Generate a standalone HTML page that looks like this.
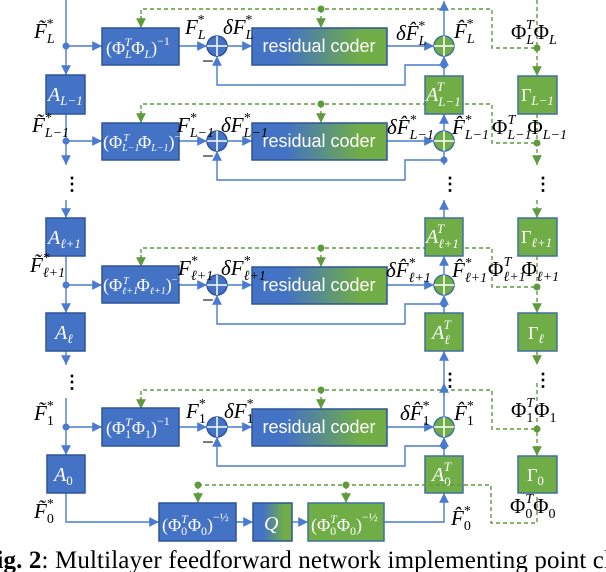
<!DOCTYPE html>
<html><head><meta charset="utf-8"><style>
html,body{margin:0;padding:0;background:#fff;width:606px;height:572px;overflow:hidden}
svg{display:block}
.m{font-family:"Liberation Serif",serif;font-style:italic;font-size:21px;fill:#000}
.u{font-family:"Liberation Serif",serif;font-size:21px;fill:#000}
.w{font-family:"Liberation Serif",serif;font-size:18px;fill:#fff}
.wi{font-family:"Liberation Serif",serif;font-style:italic;font-size:20px;fill:#fff}
.rc{font-family:"Liberation Sans",sans-serif;font-size:18px;fill:#fff}
.b{stroke:#4a7bd0;stroke-width:1.4;fill:none}
.g{stroke:#5f9a3c;stroke-width:1.4;fill:none;stroke-dasharray:4,3}
.bb{fill:#4472C4;stroke:#2F5597;stroke-width:1.5}
.gb{fill:#70AD47;stroke:#41719C;stroke-width:1.5}
.dots{font-family:"Liberation Serif",serif;font-size:18px;fill:#000;font-weight:bold}
</style></head><body>
<svg width="606" height="572" viewBox="0 0 606 572" xmlns="http://www.w3.org/2000/svg">
<defs>
<marker id="ab" viewBox="0 0 10 10" refX="10" refY="5" markerWidth="7" markerHeight="7" orient="auto"><path d="M0,0L10,5L0,10z" fill="#4a7bd0"/></marker>
<marker id="ag" viewBox="0 0 10 10" refX="10" refY="5" markerWidth="7" markerHeight="7" orient="auto"><path d="M0,0L10,5L0,10z" fill="#5f9a3c"/></marker>
<linearGradient id="grad" x1="0" x2="1" y1="0" y2="0"><stop offset="0.25" stop-color="#4472C4"/><stop offset="0.8" stop-color="#70AD47"/></linearGradient>
<g id="stage">
<path class="g" d="M141,-18V-37H492V2H537"/>
<path class="g" d="M141,-30V-18" marker-end="url(#ag)"/>
<path class="g" d="M321,-37V-18" marker-end="url(#ag)"/>
<circle cx="321" cy="-37" r="3.5" fill="#5f9a3c"/>
<circle cx="537" cy="2" r="3.5" fill="#5f9a3c"/>
<circle cx="66" cy="0" r="3.5" fill="#4a7bd0"/>
<path class="b" d="M66,0H102" marker-end="url(#ab)"/>
<path class="b" d="M179,0H207" marker-end="url(#ab)"/>
<path class="b" d="M227,0H252" marker-end="url(#ab)"/>
<path class="b" d="M387,0H434" marker-end="url(#ab)"/>
<path class="b" d="M444,19H405V39H217V10" marker-end="url(#ab)"/>
<circle cx="444" cy="19" r="3.5" fill="#4a7bd0"/>
<rect x="252" y="-18" width="135" height="37" fill="url(#grad)" stroke="#2F5597" stroke-width="1.5"/>
<text x="319" y="6" class="rc" text-anchor="middle">residual coder</text>
<circle cx="217" cy="0" r="10" class="bb"/>
<path d="M207,0H227M217,-10V10" stroke="#fff" stroke-width="1.5"/>
<circle cx="444" cy="0" r="10" class="gb"/>
<path d="M434,0H454M444,-10V10" stroke="#fff" stroke-width="1.5"/>
<text x="202" y="22" class="u">−</text>
</g>
</defs>

<use href="#stage" transform="translate(0,46)"/>
<use href="#stage" transform="translate(0,141)"/>
<use href="#stage" transform="translate(0,285)"/>
<use href="#stage" transform="translate(0,427)"/>

<rect x="102" y="28" width="77" height="37" class="bb"/>
<text x="106" y="54" class="w">(Φ<tspan font-style="italic" font-size="12" dy="4">L</tspan><tspan font-style="italic" font-size="12" dx="-7" dy="-12">T</tspan><tspan dy="8">Φ</tspan><tspan font-style="italic" font-size="12" dy="4">L</tspan><tspan dy="-4">)</tspan><tspan font-size="12" dy="-9">−1</tspan></text>
<rect x="102" y="123" width="77" height="37" class="bb"/>
<text x="103" y="148" class="w" font-size="15">(Φ<tspan font-style="italic" font-size="10" dy="3">L−1</tspan><tspan font-style="italic" font-size="10" dx="-16" dy="-10">T</tspan><tspan dx="9" dy="7">Φ</tspan><tspan font-style="italic" font-size="10" dy="3">L−1</tspan><tspan dy="-3">)</tspan><tspan font-size="10" dy="-8">−1</tspan></text>
<rect x="102" y="266" width="77" height="37" class="bb"/>
<text x="103" y="291" class="w" font-size="14">(Φ<tspan font-style="italic" font-size="10" dy="3">ℓ+1</tspan><tspan font-style="italic" font-size="10" dx="-15" dy="-10">T</tspan><tspan dx="8" dy="7">Φ</tspan><tspan font-style="italic" font-size="10" dy="3">ℓ+1</tspan><tspan dy="-3">)</tspan><tspan font-size="10" dy="-8">−1</tspan></text>
<rect x="102" y="408" width="77" height="38" class="bb"/>
<text x="106" y="434" class="w">(Φ<tspan font-size="12" dy="4">1</tspan><tspan font-style="italic" font-size="12" dx="-6" dy="-12">T</tspan><tspan dy="8">Φ</tspan><tspan font-size="12" dy="4">1</tspan><tspan dy="-4">)</tspan><tspan font-size="12" dy="-9">−1</tspan></text>

<path class="b" d="M66,0V75" marker-end="url(#ab)"/>
<path class="b" d="M66,114V165" marker-end="url(#ab)"/>
<path class="b" d="M66,200V218" marker-end="url(#ab)"/>
<path class="b" d="M66,256V313" marker-end="url(#ab)"/>
<path class="b" d="M66,351V365" marker-end="url(#ab)"/>
<path class="b" d="M66,398V455" marker-end="url(#ab)"/>
<path class="b" d="M66,493V522H159" marker-end="url(#ab)"/>
<text x="63" y="190" class="dots">⋮</text>
<text x="63" y="388" class="dots">⋮</text>
<rect x="46" y="75" width="39" height="39" class="bb"/>
<text x="48" y="101" class="wi">A<tspan font-size="13" dy="4">L−1</tspan></text>
<rect x="46" y="218" width="39" height="38" class="bb"/>
<text x="48" y="244" class="wi">A<tspan font-size="13" dy="4">ℓ+1</tspan></text>
<rect x="46" y="313" width="39" height="38" class="bb"/>
<text x="55" y="339" class="wi">A<tspan font-size="13" dy="4">ℓ</tspan></text>
<rect x="47" y="455" width="38" height="38" class="bb"/>
<text x="54" y="481" class="wi">A<tspan font-style="normal" font-size="13" dy="4">0</tspan></text>

<path class="b" d="M444,36V1" marker-end="url(#ab)"/>
<path class="b" d="M444,76V56" marker-end="url(#ab)"/>
<path class="b" d="M444,131V114" marker-end="url(#ab)"/>
<path class="b" d="M444,151V165"/>
<path class="b" d="M444,218V200" marker-end="url(#ab)"/>
<path class="b" d="M444,275V256" marker-end="url(#ab)"/>
<path class="b" d="M444,313V295" marker-end="url(#ab)"/>
<path class="b" d="M444,395V351" marker-end="url(#ab)"/>
<path class="b" d="M444,417V383" marker-end="url(#ab)"/>
<path class="b" d="M444,456V437" marker-end="url(#ab)"/>
<path class="b" d="M384,522H444V493" marker-end="url(#ab)"/>
<text x="441" y="190" class="dots">⋮</text>
<text x="441" y="386" class="dots">⋮</text>
<rect x="425" y="76" width="38" height="38" class="gb"/>
<text x="426" y="101" class="wi">A<tspan font-size="13" dy="5">L−1</tspan><tspan font-size="13" dx="-24" dy="-15">T</tspan></text>
<rect x="425" y="218" width="38" height="38" class="gb"/>
<text x="426" y="243" class="wi">A<tspan font-size="13" dy="5">ℓ+1</tspan><tspan font-size="13" dx="-22" dy="-15">T</tspan></text>
<rect x="425" y="313" width="38" height="38" class="gb"/>
<text x="432" y="339" class="wi">A<tspan font-size="13" dy="5">ℓ</tspan><tspan font-size="13" dx="-6" dy="-15">T</tspan></text>
<rect x="425" y="456" width="38" height="37" class="gb"/>
<text x="432" y="481" class="wi">A<tspan font-style="normal" font-size="13" dy="5">0</tspan><tspan font-size="13" dx="-7" dy="-15">T</tspan></text>

<path class="g" d="M537,0V76" marker-end="url(#ag)"/>
<path class="g" d="M537,114V165" marker-end="url(#ag)"/>
<path class="g" d="M537,200V218" marker-end="url(#ag)"/>
<path class="g" d="M537,256V313" marker-end="url(#ag)"/>
<path class="g" d="M537,351V365" marker-end="url(#ag)"/>
<path class="g" d="M537,383V456" marker-end="url(#ag)"/>
<text x="534" y="190" class="dots">⋮</text>
<text x="534" y="386" class="dots">⋮</text>
<rect x="518" y="76" width="39" height="38" class="gb"/>
<text x="521" y="101" class="w" font-size="19">Γ<tspan font-style="italic" font-size="13" dy="4">L−1</tspan></text>
<rect x="518" y="218" width="39" height="38" class="gb"/>
<text x="521" y="243" class="w" font-size="19">Γ<tspan font-style="italic" font-size="13" dy="4">ℓ+1</tspan></text>
<rect x="518" y="313" width="39" height="38" class="gb"/>
<text x="528" y="339" class="w" font-size="19">Γ<tspan font-style="italic" font-size="13" dy="4">ℓ</tspan></text>
<rect x="518" y="456" width="39" height="37" class="gb"/>
<text x="527" y="481" class="w" font-size="19">Γ<tspan font-size="13" dy="4">0</tspan></text>

<path class="g" d="M198,485H491V523H537V493"/>
<path class="g" d="M198,485V503" marker-end="url(#ag)"/>
<path class="g" d="M346,485V503" marker-end="url(#ag)"/>
<circle cx="198" cy="485" r="3.5" fill="#5f9a3c"/>
<circle cx="346" cy="485" r="3.5" fill="#5f9a3c"/>
<path class="b" d="M236,522H253" marker-end="url(#ab)"/>
<path class="b" d="M292,522H308" marker-end="url(#ab)"/>
<rect x="159" y="503" width="77" height="38" class="bb"/>
<text x="162" y="531" class="w">(Φ<tspan font-size="12" dy="4">0</tspan><tspan font-style="italic" font-size="12" dx="-6" dy="-12">T</tspan><tspan dy="8">Φ</tspan><tspan font-size="12" dy="4">0</tspan><tspan dy="-4">)</tspan><tspan font-size="12" dy="-10">−½</tspan></text>
<rect x="253" y="503" width="39" height="38" fill="url(#grad)" stroke="#2F5597" stroke-width="1.5"/>
<text x="264" y="530" class="wi">Q</text>
<rect x="308" y="503" width="76" height="38" class="gb"/>
<text x="311" y="531" class="w">(Φ<tspan font-size="12" dy="4">0</tspan><tspan font-style="italic" font-size="12" dx="-6" dy="-12">T</tspan><tspan dy="8">Φ</tspan><tspan font-size="12" dy="4">0</tspan><tspan dy="-4">)</tspan><tspan font-size="12" dy="-10">−½</tspan></text>

<text x="34" y="38" class="m">F̃<tspan font-size="14" dy="5">L</tspan><tspan font-style="normal" font-size="14" dx="-8" dy="-15">*</tspan></text>
<text x="185" y="34" class="m">F<tspan font-size="14" dy="5">L</tspan><tspan font-style="normal" font-size="14" dx="-8" dy="-15">*</tspan></text>
<text x="223" y="34" class="m">δF<tspan font-size="14" dy="5">L</tspan><tspan font-style="normal" font-size="14" dx="-8" dy="-15">*</tspan></text>
<text x="396" y="40" class="m">δF̂<tspan font-size="14" dy="5">L</tspan><tspan font-style="normal" font-size="14" dx="-8" dy="-15">*</tspan></text>
<text x="454" y="38" class="m">F̂<tspan font-size="14" dy="5">L</tspan><tspan font-style="normal" font-size="14" dx="-8" dy="-15">*</tspan></text>
<text x="511" y="39" class="u">Φ<tspan font-style="italic" font-size="14" dy="5">L</tspan><tspan font-style="italic" font-size="14" dx="-8" dy="-15">T</tspan><tspan dy="10">Φ</tspan><tspan font-style="italic" font-size="14" dy="5">L</tspan></text>
<text x="32" y="132" class="m">F̃<tspan font-size="14" dy="5">L−1</tspan><tspan font-style="normal" font-size="14" dx="-24" dy="-15">*</tspan></text>
<text x="177" y="132" class="m">F<tspan font-size="14" dy="5">L−1</tspan><tspan font-style="normal" font-size="14" dx="-24" dy="-15">*</tspan></text>
<text x="221" y="132" class="m">δF<tspan font-size="14" dy="5">L−1</tspan><tspan font-style="normal" font-size="14" dx="-24" dy="-15">*</tspan></text>
<text x="387" y="134" class="m">δF̂<tspan font-size="14" dy="5">L−1</tspan><tspan font-style="normal" font-size="14" dx="-24" dy="-15">*</tspan></text>
<text x="452" y="134" class="m">F̂<tspan font-size="14" dy="5">L−1</tspan><tspan font-style="normal" font-size="14" dx="-24" dy="-15">*</tspan></text>
<text x="492" y="134" class="u">Φ<tspan font-style="italic" font-size="14" dy="5">L−1</tspan><tspan font-style="italic" font-size="14" dx="-24" dy="-15">T</tspan><tspan dx="12" dy="10">Φ</tspan><tspan font-style="italic" font-size="14" dy="5">L−1</tspan></text>
<text x="30" y="272" class="m">F̃<tspan font-size="14" dy="5">ℓ+1</tspan><tspan font-style="normal" font-size="14" dx="-22" dy="-15">*</tspan></text>
<text x="178" y="275" class="m">F<tspan font-size="14" dy="5">ℓ+1</tspan><tspan font-style="normal" font-size="14" dx="-22" dy="-15">*</tspan></text>
<text x="221" y="275" class="m">δF<tspan font-size="14" dy="5">ℓ+1</tspan><tspan font-style="normal" font-size="14" dx="-22" dy="-15">*</tspan></text>
<text x="386" y="277" class="m">δF̂<tspan font-size="14" dy="5">ℓ+1</tspan><tspan font-style="normal" font-size="14" dx="-22" dy="-15">*</tspan></text>
<text x="452" y="277" class="m">F̂<tspan font-size="14" dy="5">ℓ+1</tspan><tspan font-style="normal" font-size="14" dx="-22" dy="-15">*</tspan></text>
<text x="488" y="276" class="u">Φ<tspan font-style="italic" font-size="14" dy="5">ℓ+1</tspan><tspan font-style="italic" font-size="14" dx="-22" dy="-15">T</tspan><tspan dx="10" dy="10">Φ</tspan><tspan font-style="italic" font-size="14" dy="5">ℓ+1</tspan></text>
<text x="34" y="420" class="m">F̃<tspan font-style="normal" font-size="14" dy="5">1</tspan><tspan font-style="normal" font-size="14" dx="-7" dy="-15">*</tspan></text>
<text x="186" y="418" class="m">F<tspan font-style="normal" font-size="14" dy="5">1</tspan><tspan font-style="normal" font-size="14" dx="-7" dy="-15">*</tspan></text>
<text x="224" y="418" class="m">δF<tspan font-style="normal" font-size="14" dy="5">1</tspan><tspan font-style="normal" font-size="14" dx="-7" dy="-15">*</tspan></text>
<text x="400" y="420" class="m">δF̂<tspan font-style="normal" font-size="14" dy="5">1</tspan><tspan font-style="normal" font-size="14" dx="-7" dy="-15">*</tspan></text>
<text x="454" y="420" class="m">F̂<tspan font-style="normal" font-size="14" dy="5">1</tspan><tspan font-style="normal" font-size="14" dx="-7" dy="-15">*</tspan></text>
<text x="511" y="417" class="u">Φ<tspan font-size="14" dy="5">1</tspan><tspan font-style="italic" font-size="14" dx="-7" dy="-15">T</tspan><tspan dy="10">Φ</tspan><tspan font-size="14" dy="5">1</tspan></text>
<text x="34" y="518" class="m">F̃<tspan font-style="normal" font-size="14" dy="5">0</tspan><tspan font-style="normal" font-size="14" dx="-7" dy="-15">*</tspan></text>
<text x="451" y="525" class="m">F̂<tspan font-style="normal" font-size="14" dy="5">0</tspan><tspan font-style="normal" font-size="14" dx="-7" dy="-15">*</tspan></text>
<text x="510" y="513" class="u">Φ<tspan font-size="14" dy="5">0</tspan><tspan font-style="italic" font-size="14" dx="-7" dy="-15">T</tspan><tspan dy="10">Φ</tspan><tspan font-size="14" dy="5">0</tspan></text>

<text x="-19" y="568" font-family="Liberation Serif, serif" font-size="25" fill="#000" textLength="630" lengthAdjust="spacing"><tspan font-weight="bold">Fig. 2</tspan>:  Multilayer feedforward network implementing point cl</text>
</svg>
</body></html>
